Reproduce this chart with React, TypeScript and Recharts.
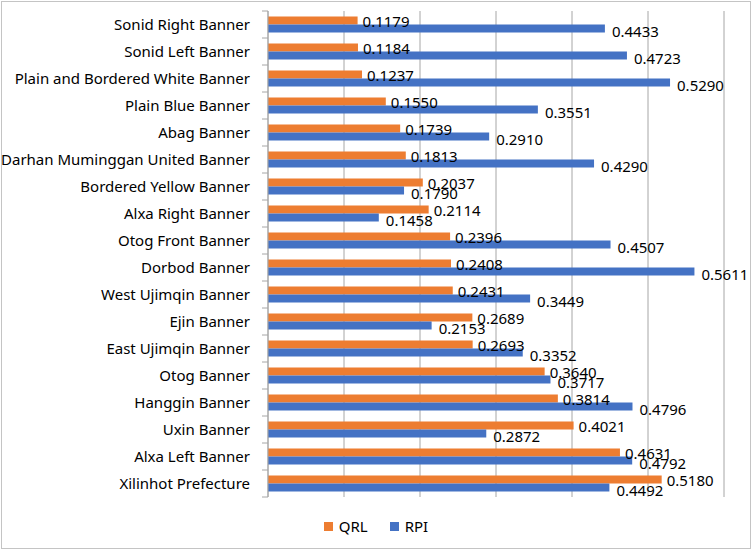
import { BarChart, Bar, XAxis, YAxis, CartesianGrid, Legend, LabelList } from "recharts";

const banners = [
  "Sonid Right Banner",
  "Sonid Left Banner",
  "Plain and Bordered White Banner",
  "Plain Blue Banner",
  "Abag Banner",
  "Darhan Muminggan United Banner",
  "Bordered Yellow Banner",
  "Alxa Right Banner",
  "Otog Front Banner",
  "Dorbod Banner",
  "West Ujimqin Banner",
  "Ejin Banner",
  "East Ujimqin Banner",
  "Otog Banner",
  "Hanggin Banner",
  "Uxin Banner",
  "Alxa Left Banner",
  "Xilinhot Prefecture",
];

const qrl = [
  0.1179, 0.1184, 0.1237, 0.155, 0.1739, 0.1813, 0.2037, 0.2114, 0.2396, 0.2408, 0.2431, 0.2689, 0.2693,
  0.364, 0.3814, 0.4021, 0.4631, 0.518,
];

const rpi = [
  0.4433, 0.4723, 0.529, 0.3551, 0.291, 0.429, 0.179, 0.1458, 0.4507, 0.5611, 0.3449, 0.2153, 0.3352,
  0.3717, 0.4796, 0.2872, 0.4792, 0.4492,
];

const xTicks = [0, 0.1, 0.2, 0.3, 0.4, 0.5, 0.6];

const data = banners.map((name, i) => ({ name, QRL: qrl[i], RPI: rpi[i] }));

const FONT = '"Noto Sans", sans-serif';
const TICK_SIZE = 6;
const TICK_MARGIN = 12;
const AXIS_GRAY = "#a6a6a6";

function CategoryTick(props: any) {
  const { x, y, payload, index, visibleTicksCount, height } = props;
  const band = height && visibleTicksCount ? height / visibleTicksCount : 0;
  const lineX2 = x + TICK_SIZE + TICK_MARGIN;
  const lineX1 = lineX2 - TICK_SIZE;
  return (
    <g>
      <text x={x} y={y} dy="0.355em" textAnchor="end" fill="#000" fontSize={15} fontFamily={FONT}>
        {payload.value}
      </text>
      {band > 0 && (
        <line x1={lineX1} x2={lineX2} y1={y - band / 2} y2={y - band / 2} stroke={AXIS_GRAY} />
      )}
      {band > 0 && index === visibleTicksCount - 1 && (
        <line x1={lineX1} x2={lineX2} y1={y + band / 2} y2={y + band / 2} stroke={AXIS_GRAY} />
      )}
    </g>
  );
}

function LegendContent(props: any) {
  const { payload } = props;
  return (
    <div style={{ display: "flex", justifyContent: "center", alignItems: "center", fontFamily: FONT, fontSize: 15 }}>
      {(payload || []).map((p: any, i: number) => (
        <div key={p.value} style={{ display: "flex", alignItems: "center", marginLeft: i === 0 ? 0 : 22 }}>
          <span style={{ display: "inline-block", width: 9, height: 9, background: p.color, marginRight: 6 }} />
          <span style={{ color: "#000" }}>{p.value}</span>
        </div>
      ))}
    </div>
  );
}

export default function App() {
  return (
    <div style={{ position: "absolute", left: 0, top: 0, width: 752, height: 550, background: "#fff" }}>
      <div
        style={{
          position: "absolute",
          left: 1,
          top: 1,
          width: 750,
          height: 548,
          border: "1px solid #c4c4c4",
          boxSizing: "border-box",
        }}
      />
      <div style={{ position: "absolute", left: 0, top: 0 }}>
        <BarChart
          width={752}
          height={550}
          data={data}
          layout="vertical"
          margin={{ top: 11, right: 28, left: 0, bottom: 53 }}
          barCategoryGap="20%"
          barGap={0}
          style={{ fontFamily: FONT }}
        >
          <CartesianGrid horizontal={false} stroke={AXIS_GRAY} />
          <XAxis type="number" domain={[0, 0.6]} ticks={xTicks} hide />
          <YAxis
            type="category"
            dataKey="name"
            width={268}
            axisLine={{ stroke: AXIS_GRAY }}
            tickLine={false}
            tickSize={TICK_SIZE}
            tickMargin={TICK_MARGIN}
            interval={0}
            tick={<CategoryTick />}
          />
          <Legend
            verticalAlign="middle"
            align="center"
            wrapperStyle={{ top: 516, left: 0, width: 752 }}
            content={<LegendContent />}
          />
          <Bar dataKey="QRL" fill="#ED7D31" isAnimationActive={false}>
            <LabelList
              dataKey="QRL"
              position="right"
              offset={5}
              dy={1}
              fill="#000"
              fontSize={15}
              fontFamily={FONT}
              formatter={(v: any) => Number(v).toFixed(4)}
            />
          </Bar>
          <Bar dataKey="RPI" fill="#4472C4" isAnimationActive={false}>
            <LabelList
              dataKey="RPI"
              position="right"
              offset={7}
              dy={3}
              fill="#000"
              fontSize={15}
              fontFamily={FONT}
              formatter={(v: any) => Number(v).toFixed(4)}
            />
          </Bar>
        </BarChart>
      </div>
    </div>
  );
}
